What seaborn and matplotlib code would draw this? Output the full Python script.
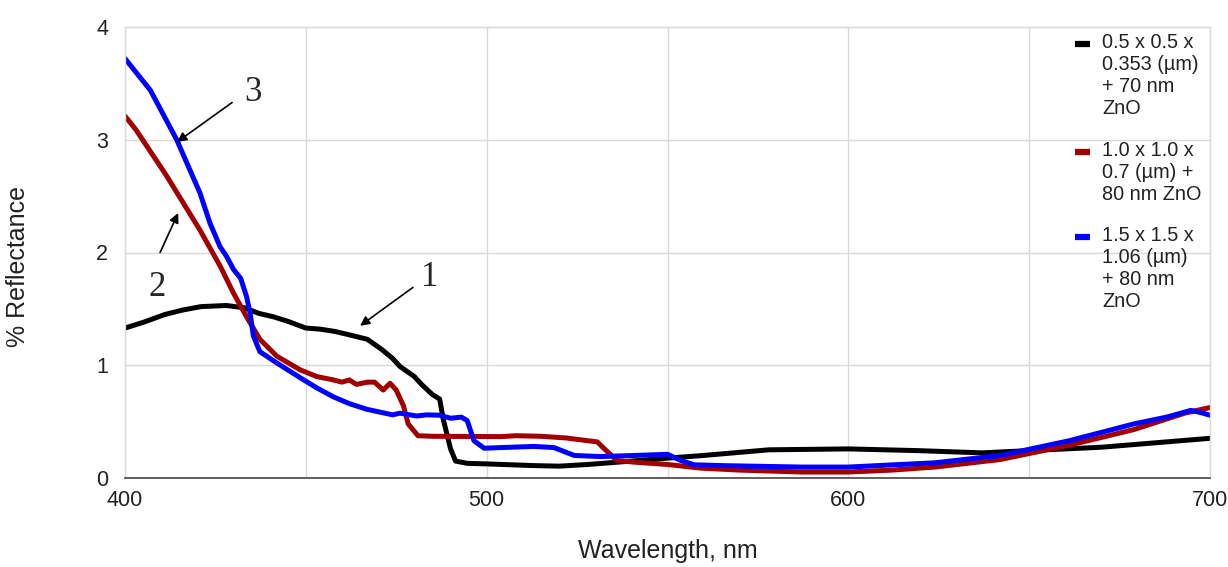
import numpy as np
import pandas as pd
import matplotlib
matplotlib.use("Agg")
import matplotlib.pyplot as plt
import seaborn as sns

# Reflectance spectra (% R vs wavelength, nm) for three particle geometries
wl_1 = [400, 405, 411, 416, 421, 428, 433, 437, 441, 445, 450, 454, 458, 462,
        467, 471, 474, 476, 480, 482, 485, 487, 488, 490, 491.4, 494.6, 500,
        513, 520, 528, 536, 550, 560, 578, 600, 619, 637, 650, 670, 700]
r_1 = [1.33, 1.38, 1.45, 1.49, 1.52, 1.53, 1.51, 1.46, 1.43, 1.39, 1.33, 1.32,
       1.30, 1.27, 1.23, 1.14, 1.06, 0.99, 0.90, 0.83, 0.74, 0.70, 0.52, 0.26,
       0.15, 0.13, 0.125, 0.11, 0.105, 0.12, 0.14, 0.176, 0.20, 0.25, 0.258,
       0.243, 0.223, 0.243, 0.273, 0.352]

wl_2 = [400, 403, 411.5, 420.7, 426.3, 430, 433.6, 437.3, 442, 448.4, 453,
        457.6, 460, 462, 464, 467, 469, 471.4, 473.3, 475, 477, 478.3, 481,
        485, 504, 508, 515, 522, 530.6, 532.5, 536, 541, 550, 559, 570, 587,
        600, 612, 624, 642, 661, 679, 693, 700]
r_2 = [3.21, 3.09, 2.68, 2.20, 1.88, 1.64, 1.43, 1.23, 1.08, 0.96, 0.90, 0.87,
       0.85, 0.87, 0.83, 0.85, 0.85, 0.78, 0.84, 0.78, 0.64, 0.48, 0.375, 0.37,
       0.367, 0.375, 0.37, 0.355, 0.32, 0.26, 0.155, 0.14, 0.12, 0.088, 0.07,
       0.053, 0.053, 0.07, 0.097, 0.164, 0.29, 0.43, 0.575, 0.625]

wl_3 = [400, 407, 414.3, 420.7, 423.5, 426.3, 428, 430, 432, 433.6, 434.6,
        435.5, 437.3, 442, 448.4, 453, 457.6, 462, 466.8, 474, 476, 480.6,
        483.4, 487, 490, 493, 494.6, 496.5, 499.3, 504, 513, 518.6, 524.2,
        531.5, 541, 550, 553.7, 557.4, 565, 587, 600, 624, 642, 661, 679, 688,
        694.7, 697.5, 700]
r_3 = [3.72, 3.44, 3.0, 2.53, 2.26, 2.05, 1.97, 1.85, 1.77, 1.61, 1.46, 1.26,
       1.12, 1.02, 0.89, 0.80, 0.72, 0.66, 0.61, 0.56, 0.575, 0.55, 0.56, 0.557,
       0.53, 0.54, 0.51, 0.33, 0.264, 0.27, 0.28, 0.27, 0.20, 0.19, 0.20, 0.21,
       0.155, 0.117, 0.11, 0.097, 0.097, 0.135, 0.2, 0.33, 0.48, 0.54, 0.60,
       0.58, 0.557]

series_labels = ["0.5 x 0.5 x\n0.353 (µm)\n+ 70 nm\nZnO",
                 "1.0 x 1.0 x\n0.7 (µm) +\n80 nm ZnO",
                 "1.5 x 1.5 x\n1.06 (µm)\n+ 80 nm\nZnO"]
series_colors = ["#000000", "#a00000", "#0000ff"]

x_ticks = [400, 500, 600, 700]
y_ticks = [0, 1, 2, 3, 4]

df = pd.concat([
    pd.DataFrame({"wl": wl_1, "R": r_1, "sample": series_labels[0]}),
    pd.DataFrame({"wl": wl_2, "R": r_2, "sample": series_labels[1]}),
    pd.DataFrame({"wl": wl_3, "R": r_3, "sample": series_labels[2]}),
], ignore_index=True)

sns.set_theme(style="whitegrid")
plt.rcParams["font.family"] = ["Liberation Sans", "DejaVu Sans"]

fig = plt.figure(figsize=(12.28, 5.67), dpi=100)
ax = fig.add_axes([125 / 1228, 1 - 478 / 567, 1085 / 1228, 451 / 567])

sns.lineplot(data=df, x="wl", y="R", hue="sample", palette=series_colors,
             estimator=None, sort=False, linewidth=3.6, ax=ax, legend=False)

ax.set_xlim(400, 700)
ax.set_ylim(0, 4)
ax.set_xticks(x_ticks)
ax.set_xticks([450, 550, 650], minor=True)
ax.set_yticks(y_ticks)
ax.grid(True, which="both", color="#d9d9d9", linewidth=1.0)
ax.tick_params(axis="both", which="both", length=0, labelsize=15.5,
               labelcolor="#222222")
ax.tick_params(axis="x", pad=9)
ax.tick_params(axis="y", pad=12)
for side in ["left", "top", "right"]:
    ax.spines[side].set_color("#d9d9d9")
    ax.spines[side].set_linewidth(1.0)
ax.spines["bottom"].set_color("#444444")
ax.spines["bottom"].set_linewidth(1.2)

ax.set_xlabel("Wavelength, nm", fontsize=18, color="#222222", labelpad=20)
ax.set_ylabel("% Reflectance", fontsize=18, color="#222222")
ax.yaxis.set_label_coords(-0.088, 0.47)

# Legend: short swatch beside the first line of each wrapped label
leg_x_handle = ((1075 - 125) / 1085, (1090 - 125) / 1085)
leg_x_text = (1102 - 125) / 1085
leg_y_first = [(478 - 44) / 451, (478 - 152) / 451, (478 - 237) / 451]
for label, color, y0 in zip(series_labels, series_colors, leg_y_first):
    ax.plot(leg_x_handle, [y0, y0], color=color, lw=4.5,
            transform=ax.transAxes, clip_on=False, solid_capstyle="butt")
    ax.text(leg_x_text, y0, label, transform=ax.transAxes, fontsize=14.3,
            color="#222222", ha="left", va="top", linespacing=1.2,
            bbox=None).set_y(y0 + 11 / 451)

# Curve numbering with arrows
serif = ["Liberation Serif", "DejaVu Serif"]
arrow = dict(arrowstyle="-|>", color="black", lw=1.2, mutation_scale=14,
             shrinkA=0, shrinkB=0)
ax.annotate("", xy=(414.4, 2.98), xytext=(429.6, 3.33), arrowprops=arrow)
ax.text(435.4, 3.42, "3", fontsize=25, family=serif, ha="center", va="center")
ax.annotate("", xy=(414.7, 2.35), xytext=(409.7, 2.0), arrowprops=arrow)
ax.text(408.8, 1.69, "2", fontsize=25, family=serif, ha="center", va="center")
ax.annotate("", xy=(465.0, 1.35), xytext=(479.6, 1.69), arrowprops=arrow)
ax.text(484.3, 1.78, "1", fontsize=25, family=serif, ha="center", va="center")

fig.savefig("out.png", dpi=100)
